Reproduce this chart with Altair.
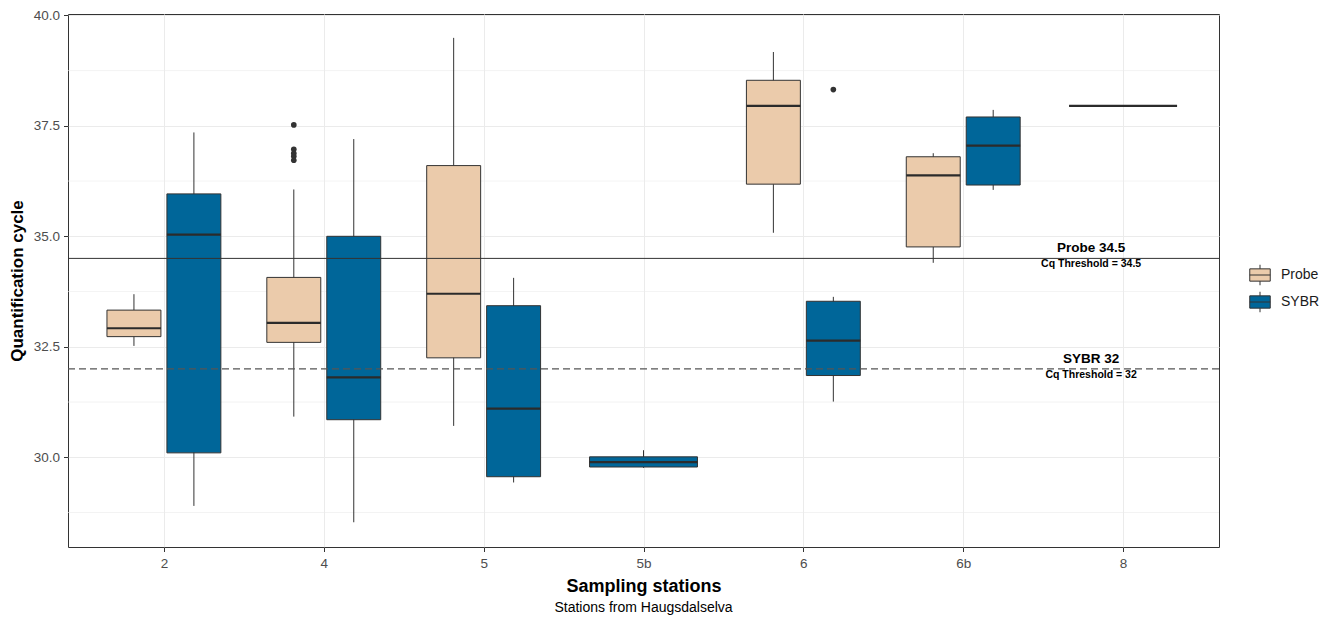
import json
import altair as alt
import pandas as pd

# ---------------- data ----------------
stations = ["2", "4", "5", "5b", "6", "6b", "8"]
groups = ["Probe", "SYBR"]
group_colors = ["#EBCBAB", "#006699"]

box_station = ["2", "2", "4", "4", "5", "5", "5b", "6", "6", "6b", "6b", "8"]
box_group = ["Probe", "SYBR", "Probe", "SYBR", "Probe", "SYBR", "SYBR",
             "Probe", "SYBR", "Probe", "SYBR", "Probe"]
whisker_low = [32.52, 28.90, 30.92, 28.53, 30.71, 29.43, 29.76, 35.08, 31.26, 34.40, 36.05, 37.95]
q1 = [32.73, 30.10, 32.60, 30.85, 32.25, 29.56, 29.78, 36.18, 31.85, 34.76, 36.16, 37.95]
median = [32.92, 35.04, 33.04, 31.81, 33.70, 31.10, 29.89, 37.95, 32.64, 36.38, 37.05, 37.95]
q3 = [33.33, 35.96, 34.07, 35.00, 36.60, 33.43, 30.01, 38.53, 33.53, 36.80, 37.70, 37.95]
whisker_high = [33.69, 37.35, 36.06, 37.20, 39.49, 34.06, 30.16, 39.17, 33.63, 36.88, 37.86, 37.95]

out_station = ["4", "4", "4", "4", "4", "6"]
out_group = ["Probe", "Probe", "Probe", "Probe", "Probe", "SYBR"]
out_value = [37.52, 36.97, 36.88, 36.81, 36.72, 38.32]

threshold_values = [34.5, 32.0]
threshold_titles = ["Probe 34.5", "SYBR 32"]
threshold_subtitles = ["Cq Threshold = 34.5", "Cq Threshold = 32"]
label_position = 6.8

y_major = [30.0, 32.5, 35.0, 37.5, 40.0]
y_minor = [28.75, 31.25, 33.75, 36.25, 38.75]

# ---------------- dodge layout (ggplot-style) ----------------
DODGE = 0.75
FRAC = 0.9
box = pd.DataFrame({
    "station": box_station, "group": box_group,
    "lo": whisker_low, "q1": q1, "med": median, "q3": q3, "hi": whisker_high,
})
pos = {s: i + 1 for i, s in enumerate(stations)}
xc, xl, xh = [], [], []
for _, r in box.iterrows():
    present = [g for g in groups if ((box.station == r.station) & (box.group == g)).any()]
    n = len(present)
    idx = present.index(r.group)
    slot = DODGE / n
    c = pos[r.station] + (idx - (n - 1) / 2) * slot
    xc.append(c)
    xl.append(c - slot * FRAC / 2)
    xh.append(c + slot * FRAC / 2)
box["xc"], box["xl"], box["xh"] = xc, xl, xh

outl = pd.DataFrame({"station": out_station, "group": out_group, "value": out_value})
outl = outl.merge(box[["station", "group", "xc"]], on=["station", "group"])

thr = pd.DataFrame({"value": threshold_values, "title": threshold_titles,
                    "sub": threshold_subtitles, "xpos": label_position})
minor = pd.DataFrame({"value": y_minor})

# ---------------- scales / axes ----------------
FONT = "Liberation Sans"
PLOT_W, PLOT_H = 1151, 533
xs = alt.Scale(domain=[0.4, 7.6], nice=False, zero=False)
ys = alt.Scale(domain=[27.97, 40.03], nice=False, zero=False)
label_expr = json.dumps(stations) + "[datum.value - 1]"
xaxis = alt.Axis(values=list(range(1, len(stations) + 1)), labelExpr=label_expr,
                 title="Sampling stations", titlePadding=7, labelPadding=5,
                 titleFontSize=18)
yaxis = alt.Axis(values=y_major, format=".1f", title="Quantification cycle",
                 titlePadding=7, labelPadding=4, titleFontSize=17)


def X(field):
    return alt.X(field, type="quantitative", scale=xs, axis=xaxis)


def Y(field):
    return alt.Y(field, type="quantitative", scale=ys, axis=yaxis)


minor_grid = alt.Chart(minor).mark_rule(color="#EBEBEB", strokeWidth=0.6).encode(y=Y("value"))

whiskers = alt.Chart(box).mark_rule(color="#333333", strokeWidth=1).encode(
    x=X("xc"), y=Y("lo"), y2="hi")

boxes = alt.Chart(box).mark_bar(stroke="#333333", strokeWidth=1, opacity=1).encode(
    x=X("xl"), x2="xh", y=Y("q1"), y2="q3",
    fill=alt.Fill("group:N",
                  scale=alt.Scale(domain=groups, range=group_colors),
                  legend=alt.Legend(
                      title=None, orient="none", legendX=1181, legendY=250,
                      symbolType="M-1,-0.6H1V0.6H-1Z M-1,0H1 M0,-0.6V-1 M0,0.6V1",
                      symbolSize=420, symbolStrokeColor="#333333", symbolStrokeWidth=1,
                      symbolOpacity=1,
                      labelFontSize=14, labelColor="#1A1A1A", labelFont=FONT,
                      labelOffset=10, rowPadding=1, padding=0)))

medians = alt.Chart(box).mark_rule(color="#2B2B2B", strokeWidth=2.2).encode(
    x=X("xl"), x2="xh", y=Y("med"))

points = alt.Chart(outl).mark_circle(color="#333333", size=32, opacity=1).encode(
    x=X("xc"), y=Y("value"))

probe_line = alt.Chart(thr.iloc[[0]]).mark_rule(color="#333333", strokeWidth=1).encode(
    y=Y("value"))
sybr_line = alt.Chart(thr.iloc[[1]]).mark_rule(
    color="#555555", strokeWidth=1.2, strokeDash=[7, 4]).encode(y=Y("value"))

titles = alt.Chart(thr).mark_text(fontSize=13.5, fontWeight="bold", font=FONT,
                                  color="#000000", dy=-10, baseline="middle").encode(
    x=X("xpos"), y=Y("value"), text="title:N")
subs = alt.Chart(thr).mark_text(fontSize=10.5, fontWeight="bold", font=FONT,
                                color="#000000", dy=6, baseline="middle").encode(
    x=X("xpos"), y=Y("value"), text="sub:N")

caption = alt.Chart(pd.DataFrame({"t": ["Stations from Haugsdalselva"]})).mark_text(
    fontSize=14, font=FONT, color="#000000", baseline="middle").encode(
    x=alt.value(PLOT_W / 2), y=alt.value(594), text="t:N")

chart = alt.layer(
    minor_grid, whiskers, boxes, medians, points, probe_line, sybr_line, titles, subs, caption
).properties(
    width=PLOT_W, height=PLOT_H,
    padding={"left": 60, "top": 6, "right": 105, "bottom": 69},
    autosize="none",
).configure(font=FONT).configure_view(
    stroke="#333333", strokeWidth=1
).configure_axis(
    grid=True, gridColor="#EBEBEB", gridWidth=1, domain=False,
    tickColor="#333333", tickSize=4.5, tickWidth=1,
    labelColor="#4D4D4D", labelFontSize=13.5, labelFont=FONT,
    titleColor="#000000", titleFontWeight="bold", titleFont=FONT,
)

chart.save("out.html", embed_options={"renderer": "svg", "actions": False})
